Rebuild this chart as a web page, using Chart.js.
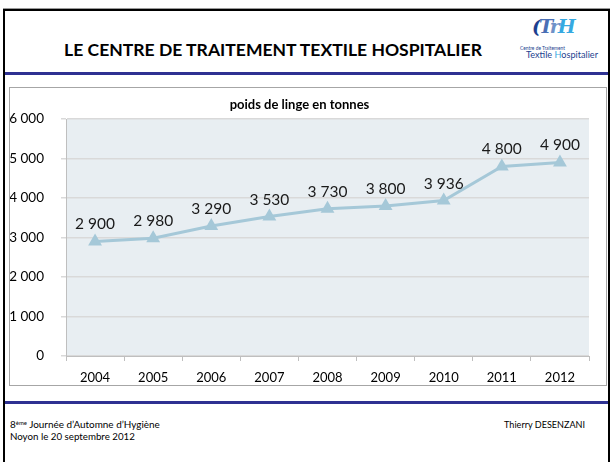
<!DOCTYPE html>
<html>
<head>
<meta charset="utf-8">
<script src="https://cdn.jsdelivr.net/npm/chart.js@4.4.1/dist/chart.umd.min.js"></script>
<style>
  html,body{margin:0;padding:0;background:#fff;}
  body{width:612px;height:462px;position:relative;overflow:hidden;font-family:Lato,"Liberation Sans",Arial,sans-serif;}
  .abs{position:absolute;white-space:nowrap;}
  #frameTop{left:3px;top:9px;width:607px;height:2px;background:#000;}
  #frameTopShade{left:3px;top:8px;width:607px;height:1px;background:#9a9a9a;}
  #frameLeft{left:3px;top:9px;width:2px;height:460px;background:#000;}
  #frameRight{left:608px;top:9px;width:2px;height:460px;background:#000;}
  #blueTop{left:5px;top:72px;width:603px;height:3px;background:#2E3192;}
  #blueBot{left:5px;top:401px;width:603px;height:3px;background:#2E3192;}
  #chartBox{left:9px;top:87px;width:596px;height:297px;border:1px solid #A6A6A6;}
  #c{position:absolute;left:10px;top:88px;}
  .lbl{color:#000;line-height:1;}
</style>
</head>
<body>
<div class="abs" id="frameTopShade"></div>
<div class="abs" id="frameTop"></div>
<div class="abs" id="frameLeft"></div>
<div class="abs" id="frameRight"></div>
<div class="abs" id="blueTop"></div>
<div class="abs" id="blueBot"></div>
<div class="abs" id="chartBox"></div>

<div class="abs lbl" id="slideTitle" style="font-weight:bold;">LE CENTRE DE TRAITEMENT TEXTILE HOSPITALIER</div>

<div class="abs" id="logoMark" style="left:532px;top:17px;font-family:'DejaVu Serif',serif;font-weight:bold;font-style:italic;font-size:19px;line-height:1;letter-spacing:-2px;">
  <span style="color:#1d3f8f">(</span><span style="color:#4a6fb5">T</span><span style="color:#6f92c8">r</span><span style="color:#36a9e1">H</span>
</div>
<div class="abs lbl" id="logo1" style="color:#1d3f8f;">Centre de Traitement</div>
<div class="abs lbl" id="logo2" style="color:#1d3f8f;">Textile <span style="color:#36a9e1">H</span>ospitalier</div>

<div class="abs lbl" id="foot1">8<sup style="font-size:0.6em;vertical-align:0.5em;line-height:0">ème</sup> Journée d’Automne d’Hygiène</div>
<div class="abs lbl" id="foot2">Noyon le 20 septembre 2012</div>
<div class="abs lbl" id="foot3">Thierry DESENZANI</div>

<canvas id="c" width="596" height="297"></canvas>

<script>
// ---- data ----
const years = ['2004','2005','2006','2007','2008','2009','2010','2011','2012'];
const tonnes = [2900, 2980, 3290, 3530, 3730, 3800, 3936, 4800, 4900];
const yMin = 0;
const yMax = 6000;
const yStep = 1000;
const chartTitle = 'poids de linge en tonnes';

const FONT = 'Lato, "Liberation Sans", Arial, sans-serif';
function fmt(n){ return String(n).replace(/\B(?=(\d{3})+(?!\d))/g, ' '); }

// fit HTML text to a target width, then place by left/center-y
function place(id, left, centerY, width, align){
  const el = document.getElementById(id);
  el.style.fontSize = '100px';
  const w = el.getBoundingClientRect().width;
  const size = 100 * width / w;
  el.style.fontSize = size + 'px';
  const r = el.getBoundingClientRect();
  let x = left;
  if (align === 'center') x = left - r.width / 2;
  if (align === 'right') x = left - r.width;
  el.style.left = x + 'px';
  el.style.top = (centerY - r.height / 2) + 'px';
}
function go(){
  place('slideTitle', 273, 50, 418, 'center');
  place('logo1', 520, 48, 45, 'left');
  place('logo2', 526, 55, 72, 'left');
  place('foot1', 10, 425, 150, 'left');
  place('foot2', 10, 437, 125, 'left');
  place('foot3', 585, 425, 81, 'right');

  const plotBg = {
    id: 'plotBg',
    beforeDraw(chart){
      const {ctx, chartArea:a} = chart;
      ctx.save();
      ctx.fillStyle = '#E8EEF2';
      ctx.fillRect(a.left, a.top, a.right - a.left, a.bottom - a.top);
      ctx.restore();
    }
  };
  const valueLabels = {
    id: 'valueLabels',
    afterDatasetsDraw(chart){
      const ctx = chart.ctx;
      const meta = chart.getDatasetMeta(0);
      ctx.save();
      ctx.font = '15.5px ' + FONT;
      ctx.fillStyle = '#1a1a1a';
      ctx.textAlign = 'center';
      ctx.textBaseline = 'middle';
      meta.data.forEach((p, i) => {
        ctx.fillText(fmt(chart.data.datasets[0].data[i]), p.x, p.y - 17);
      });
      ctx.restore();
    }
  };

  new Chart(document.getElementById('c'), {
    type: 'line',
    data: {
      labels: years,
      datasets: [{
        data: tonnes,
        borderColor: '#A5C8D8',
        backgroundColor: '#A5C8D8',
        borderWidth: 3,
        pointStyle: 'triangle',
        pointRadius: 5,
        pointBackgroundColor: '#A5C8D8',
        pointBorderColor: '#A5C8D8',
        tension: 0,
        fill: false
      }]
    },
    options: {
      responsive: false,
      animation: false,
      devicePixelRatio: 1,
      layout: { padding: { left: 0, right: 17, top: 0, bottom: 0 } },
      plugins: {
        legend: { display: false },
        tooltip: { enabled: false },
        title: {
          display: true,
          text: chartTitle,
          color: '#000',
          font: { family: FONT, size: 13, weight: 'bold', lineHeight: 1.2 },
          padding: { top: 9.2, bottom: 6.2 }
        }
      },
      scales: {
        x: {
          offset: true,
          grid: { display: true, drawOnChartArea: false, drawTicks: true, tickLength: 5, color: '#BFBFBF', offset: true },
          border: { display: true, color: '#BFBFBF', width: 1 },
          ticks: { color: '#000', font: { family: FONT, size: 13 }, padding: 9, maxRotation: 0 },
          afterFit(s){ s.height = 29; }
        },
        y: {
          min: yMin,
          max: yMax,
          grid: { color: '#D9D9D9', lineWidth: 1.5, tickLength: 5 },
          border: { display: true, color: '#BFBFBF', width: 1 },
          ticks: { stepSize: yStep, color: '#000', font: { family: FONT, size: 13.5 }, padding: 17, callback: v => fmt(v) },
          afterFit(s){ s.width = 56; }
        }
      }
    },
    plugins: [plotBg, valueLabels]
  });
}
if (document.fonts && document.fonts.load) {
  Promise.all([
    document.fonts.load('bold 16px Lato'),
    document.fonts.load('16px Lato')
  ]).then(go, go);
} else { go(); }
</script>
</body>
</html>
